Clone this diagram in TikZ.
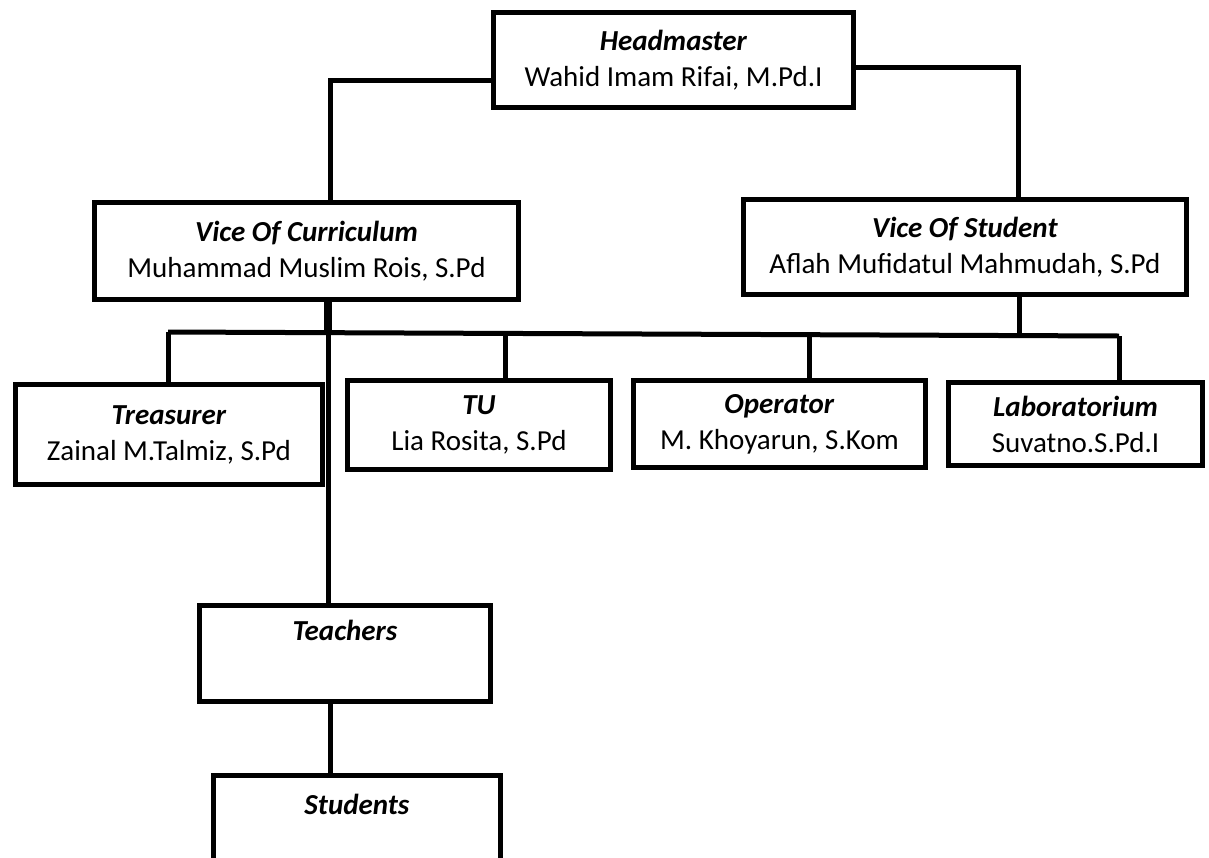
\documentclass[tikz,border=0pt]{standalone}
\usepackage{fontspec}
\setmainfont{Carlito}
\usetikzlibrary{positioning,calc}
\newcommand{\rolename}[1]{\textbf{\textit{#1}}}

\begin{document}
\begin{tikzpicture}[
  x=1pt, y=-1pt,
  box/.style={rectangle, draw, line width=5pt, fill=white, align=center, inner sep=0pt, font=\fontsize{29}{36}\selectfont},
  conn/.style={line width=5pt},
  trunk/.style={line width=8pt}
]
  \useasboundingbox (0,0) rectangle (1209,857);
  \clip (0,0) rectangle (1209,857);

  \node[box, minimum width=360pt, minimum height=95pt] (head) at (673.5,60) {\rolename{Headmaster}\\Wahid Imam Rifai, M.Pd.I};

  \node[box, minimum width=424pt, minimum height=97pt] (vcur) at (306.5,251) {\rolename{Vice Of Curriculum}\\Muhammad Muslim Rois, S.Pd};
  \node[box, minimum width=443pt, minimum height=95pt] (vstu) at (965,247) {\rolename{Vice Of Student}\\Aflah Mufidatul Mahmudah, S.Pd};

  \node[box, minimum width=307pt, minimum height=100pt] (treas) at (169,434.5) {\rolename{Treasurer}\\Zainal M.Talmiz, S.Pd};
  \node[box, minimum width=263pt, minimum height=89pt] (tu) at (479,425) {\rolename{TU}\\Lia Rosita, S.Pd};
  \node[box, minimum width=292pt, minimum height=87pt] (oper) at (779.5,424) {\rolename{Operator}\\M. Khoyarun, S.Kom};
  \node[box, minimum width=254pt, minimum height=83pt] (lab) at (1075.5,424) {\rolename{Laboratorium}\\Suvatno.S.Pd.I};

  \node[box, minimum width=291pt, minimum height=96pt] (teach) at (345,653.5) {\rolename{Teachers}\\\strut};
  \node[box, minimum width=287pt, minimum height=105pt] (stud) at (357,828) {\rolename{Students}\\\strut};

  % bus under the vices
  \coordinate (busL) at (168,332);
  \coordinate (busR) at (1119,336);
  \coordinate (vert) at ([xshift=21.5pt]vcur.south);

  % headmaster to vices
  \draw[conn] ([yshift=-20pt]head.west) -| ([xshift=23.5pt]vcur.north);
  \draw[conn] ([yshift=-7pt]head.east) -| ([xshift=53pt]vstu.north);

  % vices to bus
  \draw[trunk] (vert) -- (vert |- busL);
  \draw[conn] ([xshift=54pt]vstu.south) -- ([xshift=54pt]vstu.south |- busR);
  \draw[conn] (busL) -- (busR);

  % bus to staff
  \draw[conn] (busL) -- (busL |- treas.north);
  \draw[conn] ([xshift=26pt]tu.north) -- ([xshift=26pt,yshift=-1pt]tu.north |- busL);
  \draw[conn] ([xshift=29.5pt]oper.north) -- ([xshift=29.5pt,yshift=-3pt]oper.north |- busL);
  \draw[conn] (busR) -- (busR |- lab.north);

  % down to teachers and students
  \draw[conn] (vert |- busL) -- (vert |- teach.north);
  \draw[conn] ([xshift=-15pt]teach.south) -- ([xshift=-15pt]teach.south |- stud.north);
\end{tikzpicture}
\end{document}
